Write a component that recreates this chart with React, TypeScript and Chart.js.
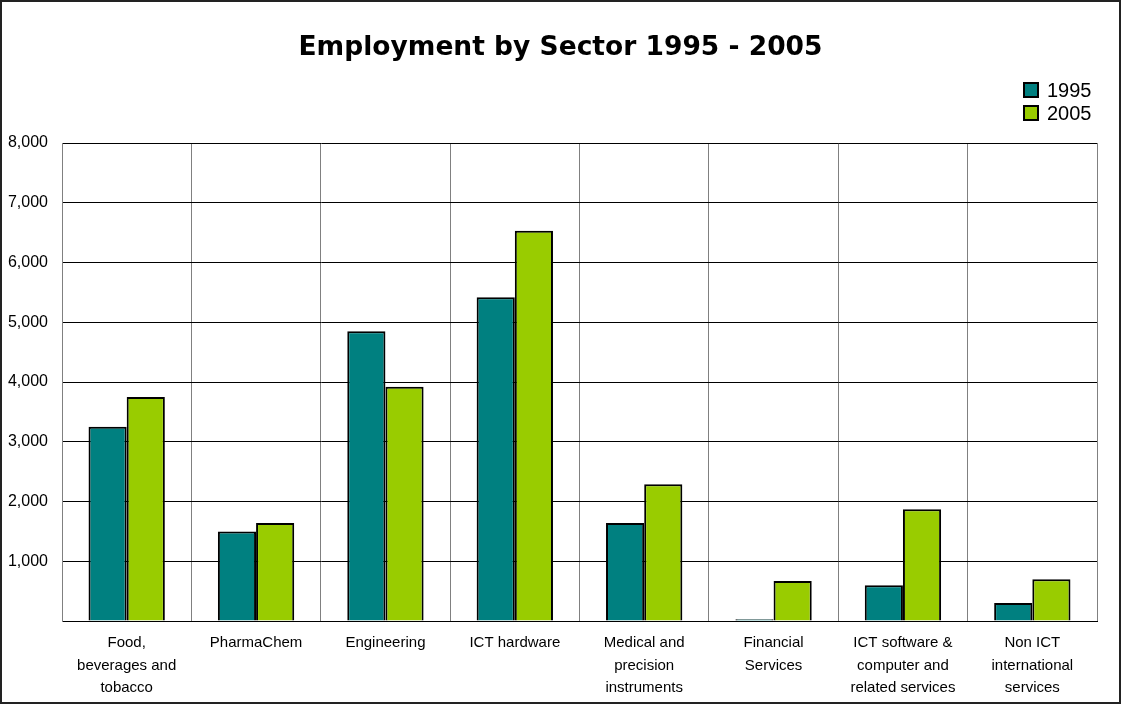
import React, { useEffect, useRef } from "react";
import { Chart, registerables } from "chart.js";

Chart.register(...registerables);

const categories: (string | string[])[] = [
  ["Food,", "beverages and", "tobacco"],
  "PharmaChem",
  "Engineering",
  "ICT hardware",
  ["Medical and", "precision", "instruments"],
  ["Financial", "Services"],
  ["ICT software &", "computer and", "related services"],
  ["Non ICT", "international", "services"],
];

const series1995 = [3250, 1500, 4850, 5420, 1640, 30, 600, 300];
const series2005 = [3750, 1640, 3920, 6530, 2290, 670, 1870, 700];

const seriesNames = ["1995", "2005"];
const seriesColors = ["#008080", "#99CC00"];

const legendPlugin = {
  id: "customLegend",
  afterDraw(chart: any) {
    const ctx = chart.ctx;
    ctx.save();
    ctx.font = "20px 'Liberation Sans', Arial, sans-serif";
    ctx.textBaseline = "middle";
    ctx.textAlign = "left";
    chart.data.datasets.forEach((ds: any, i: number) => {
      const y = 90 + i * 23;
      const x = 1024;
      ctx.fillStyle = ds.backgroundColor;
      ctx.fillRect(x, y - 7, 14, 14);
      ctx.lineWidth = 2;
      ctx.strokeStyle = "#000";
      ctx.strokeRect(x, y - 7, 14, 14);
      ctx.fillStyle = "#000";
      ctx.fillText(ds.label, 1047, y + 1);
    });
    ctx.restore();
  },
};

export default function App() {
  const ref = useRef<HTMLCanvasElement | null>(null);
  useEffect(() => {
    if (!ref.current) return;
    const chart = new Chart(ref.current, {
      type: "bar",
      data: {
        labels: categories,
        datasets: [
          {
            label: seriesNames[0],
            data: series1995,
            backgroundColor: seriesColors[0],
            borderColor: "#000",
            borderWidth: 2,
            categoryPercentage: 0.59,
            barPercentage: 1.0,
          },
          {
            label: seriesNames[1],
            data: series2005,
            backgroundColor: seriesColors[1],
            borderColor: "#000",
            borderWidth: 2,
            categoryPercentage: 0.59,
            barPercentage: 1.0,
          },
        ],
      },
      options: {
        responsive: false,
        animation: false,
        layout: { padding: { left: 0, right: 0, top: 0, bottom: 0 } },
        plugins: {
          legend: { display: false },
          tooltip: { enabled: false },
          title: {
            display: true,
            text: "Employment by Sector 1995 - 2005",
            color: "#000",
            font: { family: "'DejaVu Sans', Verdana, sans-serif", size: 26.5, weight: "bold", lineHeight: 1.2 },
            padding: { top: 32, bottom: 79.2 },
          },
        },
        scales: {
          x: {
            afterFit(scale: any) {
              scale.height = 83;
            },
            grid: {
              color: "#808080",
              lineWidth: 1,
              drawTicks: false,
              offset: true,
            },
            border: { color: "#000", width: 1 },
            ticks: {
              color: "#000",
              padding: 11,
              maxRotation: 0,
              autoSkip: false,
              font: { family: "'Liberation Sans', Arial, sans-serif", size: 15, lineHeight: 1.5 },
            },
          },
          y: {
            min: 0,
            max: 8000,
            afterFit(scale: any) {
              scale.width = 62;
            },
            grid: { color: "#000", lineWidth: 1, drawTicks: false },
            border: { color: "#808080", width: 1 },
            ticks: {
              stepSize: 1000,
              color: "#000",
              padding: 14,
              font: { family: "'Liberation Sans', Arial, sans-serif", size: 16 },
              callback: (v: any) => (Number(v) === 0 ? "" : Number(v).toLocaleString("en-US")),
            },
          },
          yRight: {
            position: "right",
            min: 0,
            max: 8000,
            afterFit(scale: any) {
              scale.width = 24;
            },
            grid: { display: false, drawTicks: false },
            border: { display: false },
            ticks: { display: false },
          },
        },
      },
      plugins: [legendPlugin],
    });
    return () => chart.destroy();
  }, []);

  return (
    <div style={{ position: "fixed", left: 0, top: 0, width: 1121, height: 704, background: "#fff" }}>
      <canvas ref={ref} width={1121} height={704} style={{ position: "absolute", left: 0, top: 0 }} />
      <div
        style={{
          position: "absolute",
          left: 0,
          top: 0,
          width: 1121,
          height: 704,
          boxSizing: "border-box",
          border: "2px solid #222",
          pointerEvents: "none",
        }}
      />
    </div>
  );
}
